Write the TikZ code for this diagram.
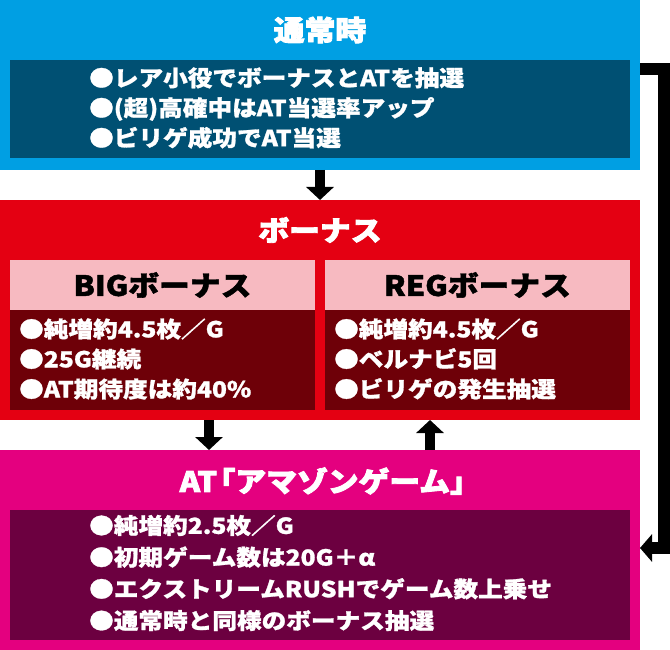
\documentclass[tikz,border=0pt]{standalone}
\usepackage{fontspec}
\setmainfont{Noto Sans CJK JP}
\newfontfamily\bodyfont[FakeStretch=1.12,FakeBold=1.2]{Noto Sans CJK JP}
\newfontfamily\headfont[FakeStretch=1.1,FakeBold=1.5]{Noto Sans CJK JP}
\newfontfamily\titlefont[FakeStretch=1.1,FakeBold=3]{Noto Sans CJK JP}
\usetikzlibrary{arrows.meta,calc}
\definecolor{blueMain}{RGB}{0,159,227}
\definecolor{blueDark}{RGB}{0,80,115}
\definecolor{redMain}{RGB}{228,0,18}
\definecolor{pinkHead}{RGB}{247,186,193}
\definecolor{redDark}{RGB}{110,0,8}
\definecolor{magMain}{RGB}{228,0,127}
\definecolor{magDark}{RGB}{108,0,64}
\tikzset{
  panel/.style={rectangle, draw=none, inner sep=0pt, outer sep=0pt},
  titletext/.style={inner sep=0pt, text=white, font=\titlefont\bfseries\fontsize{28}{30}\selectfont},
  headtext/.style={inner sep=0pt, text=black, font=\headfont\bfseries\fontsize{28}{30}\selectfont},
  bodytext/.style={inner sep=0pt, text=white, align=left, anchor=west, font=\bodyfont\bfseries\fontsize{22}{30}\selectfont},
  bigarrow/.style={line width=10.5pt, black, -{Triangle[length=13pt,width=27pt]}},
}
\begin{document}
\begin{tikzpicture}[x=1pt,y=-1pt]
\useasboundingbox (0,0) rectangle (670,650);
% normal
\node[panel, fill=blueMain, minimum width=640pt, minimum height=170pt] (normal) at (320,85) {};
\node[panel, fill=blueDark, minimum width=620pt, minimum height=98pt] (normalBody) at (320,109) {};
\node[titletext] (normalTitle) at (320,30) {通常時};
\node[bodytext] (normalText) at (89,108) {●レア小役でボーナスとATを抽選\\●(超)高確中はAT当選率アップ\\●ビリゲ成功でAT当選};
% bonus
\node[panel, fill=redMain, minimum width=640pt, minimum height=220pt] (bonus) at (320,310) {};
\node[titletext] (bonusTitle) at (320,230) {ボーナス};
\node[panel, fill=pinkHead, minimum width=305pt, minimum height=50pt] (bigHead) at (162.5,285) {};
\node[panel, fill=redDark, minimum width=305pt, minimum height=100pt] (bigBody) at (162.5,360) {};
\node[panel, fill=pinkHead, minimum width=305pt, minimum height=50pt] (regHead) at (477.5,285) {};
\node[panel, fill=redDark, minimum width=305pt, minimum height=100pt] (regBody) at (477.5,360) {};
\node[headtext] (bigTitle) at (162.5,285) {BIGボーナス};
\node[headtext] (regTitle) at (477.5,285) {REGボーナス};
\node[bodytext] (bigText) at (19,359) {●純増約4.5枚／G\\●25G継続\\●AT期待度は約40\%};
\node[bodytext] (regText) at (334,359) {●純増約4.5枚／G\\●ベルナビ5回\\●ビリゲの発生抽選};
% AT
\node[panel, fill=magMain, minimum width=640pt, minimum height=200pt] (at) at (320,550) {};
\node[panel, fill=magDark, minimum width=620pt, minimum height=130pt] (atBody) at (320,575) {};
\node[titletext] (atTitle) at (324,481) {AT\kern-0.45em「アマゾンゲーム」\kern-0.45em};
\node[bodytext, font=\bodyfont\bfseries\fontsize{22}{31.7}\selectfont] (atText) at (89,573) {●純増約2.5枚／G\\●初期ゲーム数は20G＋α\\●エクストリームRUSHでゲーム数上乗せ\\●通常時と同様のボーナス抽選};
% arrows
\draw[bigarrow] (normal.south) -- (bonus.north);
\draw[bigarrow] ($(bonus.south)+(-111,0)$) -- ($(at.north)+(-111,0)$);
\draw[bigarrow] ($(at.north)+(110,0)$) -- ($(bonus.south)+(110,0)$);
\coordinate (sideStart) at ($(normal.north east)+(0,69)$);
\draw[line width=12pt, black, line join=miter, -{Triangle[length=12pt,width=27pt]}] (sideStart) -- ++(24,0) |- ($(at.north east)+(0,98)$);
\end{tikzpicture}
\end{document}
